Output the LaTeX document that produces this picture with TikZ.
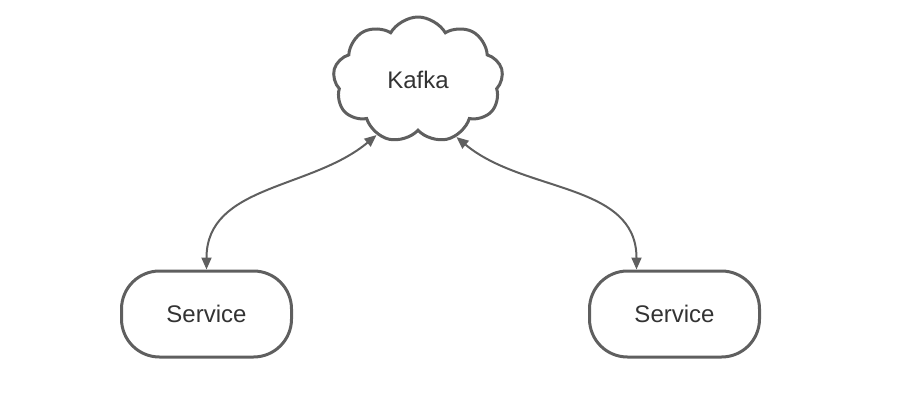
\documentclass[tikz,border=0pt]{standalone}
\usepackage{fontspec}
\setmainfont{Liberation Sans}
\usetikzlibrary{shapes.symbols,arrows.meta}
\definecolor{linegray}{HTML}{5F5F5F}
\definecolor{textgray}{HTML}{333333}

\begin{document}
\begin{tikzpicture}[x=0.5pt, y=-0.5pt,
        broker/.style = {draw=linegray, line width=1.5pt, cloud, cloud puffs=9, cloud puff arc=120, aspect=1.35, minimum width=85pt, minimum height=63pt, inner sep=0pt, text=textgray, font=\fontsize{12}{14}\selectfont},
        service/.style = {draw=linegray, line width=1.5pt, rounded corners=19pt, minimum width=85pt, minimum height=43pt, text=textgray, font=\fontsize{12}{14}\selectfont},
        link/.style = {draw=linegray, line width=1pt, {Triangle[length=6pt,width=5pt]}-{Triangle[length=6pt,width=5pt]}}]
        \useasboundingbox (0,0) rectangle (904,408);
        \node[broker] (kafka) at (418,80) {Kafka};
        \node[service] (left) at (206.5,314) {Service};
        \node[service] (right) at (674.5,314) {Service};
        \draw[link] (kafka.233) to[out=220, in=90] (left.north);
        \draw[link] (kafka.304) to[out=-40, in=90] ([xshift=-19pt]right.north);
    \end{tikzpicture}
\end{document}
